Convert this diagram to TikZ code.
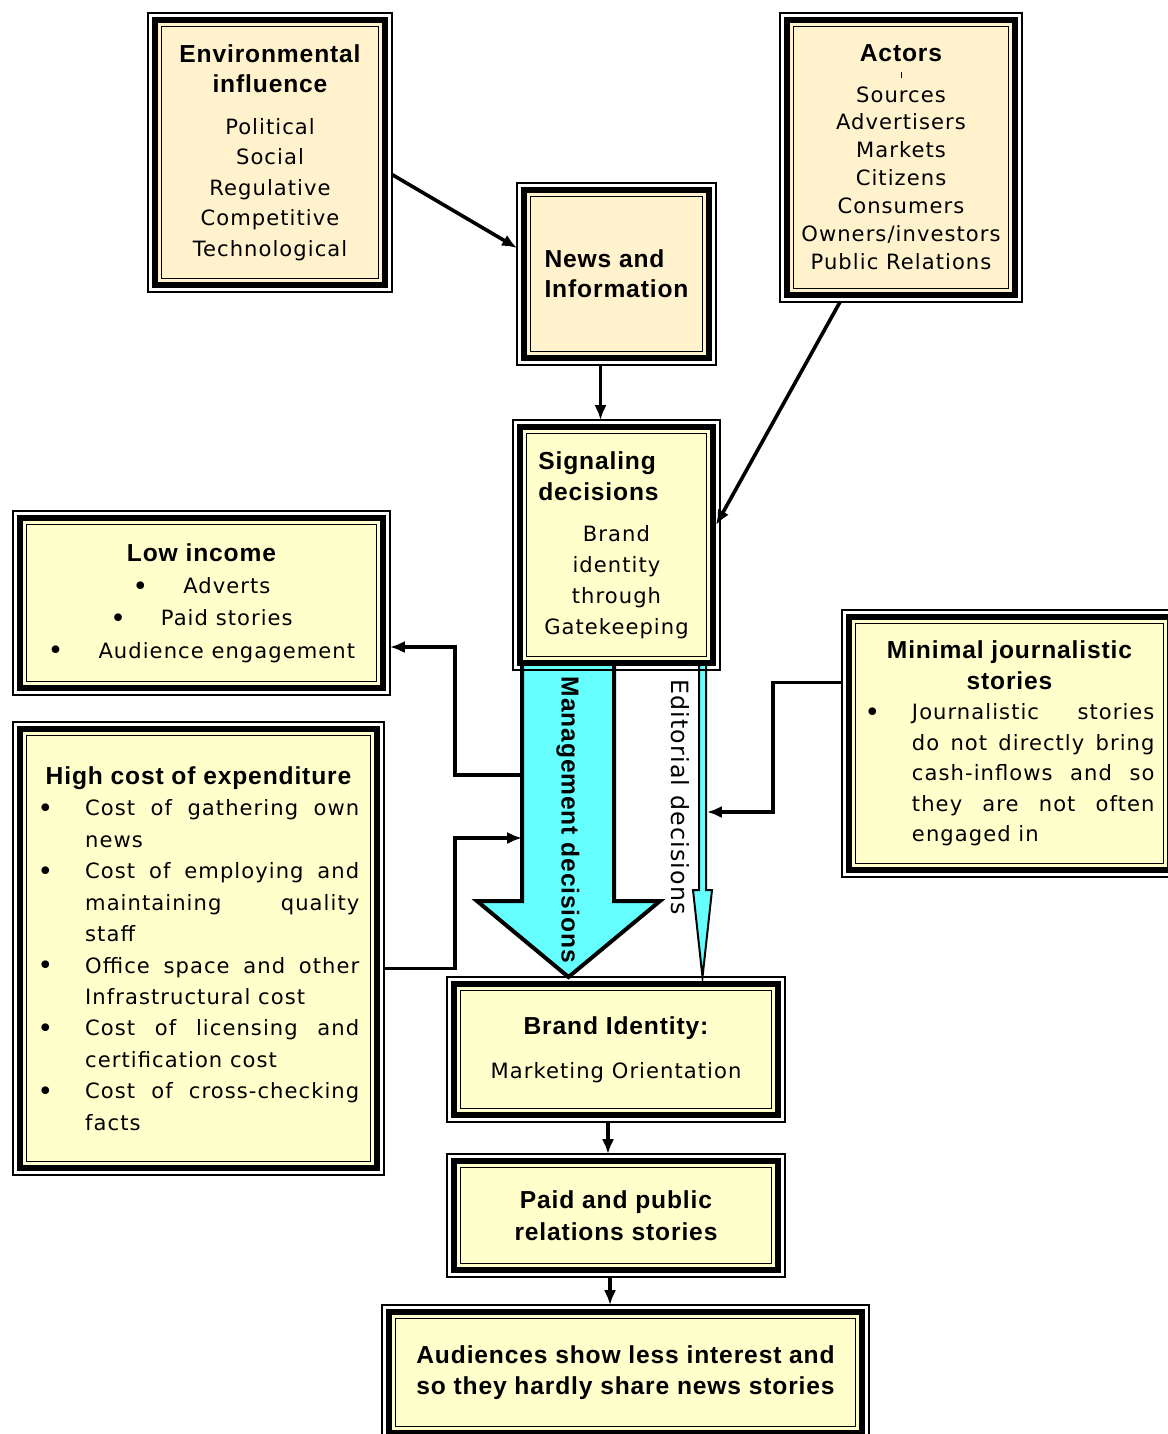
\documentclass[tikz,border=0pt]{standalone}
\usepackage{fontspec}
\setmainfont{DejaVu Sans}[LetterSpace=5]
\newfontfamily\headfont{Liberation Sans}[LetterSpace=3.5]
\usetikzlibrary{arrows.meta}
\newlength\pxu
\setlength\pxu{0.02cm}
\definecolor{cream}{HTML}{FFF2CC}
\definecolor{paleyellow}{HTML}{FFFFCC}
\definecolor{aqua}{HTML}{66FFFF}
\newcommand\hd[1]{{\headfont\bfseries\fontsize{14}{17}\selectfont #1}}
\newcommand\bul{\raisebox{-1pt}{\fontsize{15}{15}\selectfont •}}
\newcommand\bitem[2]{\makebox[27pt][l]{\bul}\makebox[#1][s]{#2}}
\newcommand\bfull[2]{\hspace*{27pt}\makebox[#1][s]{#2}}
\newcommand\blast[1]{\hspace*{27pt}#1}
\tikzset{
  framebox/.style={draw, line width=6\pxu, fill=#1, outer sep=7\pxu, inner sep=0pt},
  conn/.style={line width=3.6\pxu, -{Latex[length=8.5pt,width=7pt]}},
}
\begin{document}
\begin{tikzpicture}[x=\pxu, y=-\pxu]
\useasboundingbox (0,0) rectangle (1167,1434);

\draw[line width=4\pxu, fill=aqua, line join=miter] (522,663) -- (522,901) -- (477,901) -- (568.5,977) -- (660,901) -- (614,901) -- (614,663);
\draw[line width=2\pxu, fill=aqua, line join=miter] (699,663) -- (699,890) -- (693,890) -- (702.5,977) -- (712,890) -- (706,890) -- (706,663);

\node[framebox=cream, minimum width=230\pxu, minimum height=265\pxu, align=center, font=\fontsize{12}{17.3}\selectfont] (env) at (270,152.5)
  {\hd{Environmental}\\\hd{influence}\\[6.5pt]Political\\Social\\Regulative\\Competitive\\Technological};
\node[framebox=cream, minimum width=185\pxu, minimum height=168\pxu, align=left, font=\fontsize{12}{17}\selectfont] (news) at (616.5,274)
  {\hd{News and}\\\hd{Information}};
\node[framebox=cream, minimum width=228\pxu, minimum height=275\pxu, align=center, font=\fontsize{12}{15.9}\selectfont] (actors) at (901,157.5)
  {\hd{Actors}\\[-7pt]\rule{1\pxu}{6\pxu}\\[-2pt]Sources\\Advertisers\\Markets\\Citizens\\Consumers\\Owners/investors\\Public Relations};
\node[framebox=paleyellow, minimum width=193\pxu, minimum height=236\pxu, align=center, font=\fontsize{12}{17.6}\selectfont] (signal) at (616.5,545)
  {\makebox[89pt][l]{\hd{Signaling}}\\\makebox[89pt][l]{\hd{decisions}}\\[6pt]Brand\\identity\\through\\Gatekeeping};
\node[framebox=paleyellow, minimum width=363\pxu, minimum height=170\pxu, align=center, font=\fontsize{12}{18.4}\selectfont] (low) at (201.5,603)
  {\hd{Low income}\\\bul\hspace{20pt}Adverts\\\bul\hspace{20pt}Paid stories\\\bul\hspace{20pt}Audience engagement};
\node[framebox=paleyellow, minimum width=357\pxu, minimum height=439\pxu, align=left, font=\fontsize{12}{17.9}\selectfont] (cost) at (198.5,948.5)
  {\makebox[183pt]{\hd{High cost of expenditure}}\\
   \bitem{156pt}{Cost of gathering own}\\\blast{news}\\
   \bitem{156pt}{Cost of employing and}\\\bfull{156pt}{maintaining quality}\\\blast{staff}\\
   \bitem{156pt}{Office space and other}\\\blast{Infrastructural cost}\\
   \bitem{156pt}{Cost of licensing and}\\\blast{certification cost}\\
   \bitem{156pt}{Cost of cross-checking}\\\blast{facts}};
\node[framebox=paleyellow, minimum width=321\pxu, minimum height=253\pxu, align=left, font=\fontsize{12}{17.4}\selectfont] (minimal) at (1009.5,743.5)
  {\makebox[165pt]{\hd{Minimal journalistic}}\\\makebox[165pt]{\hd{stories}}\\
   \bitem{138pt}{Journalistic stories}\\\bfull{138pt}{do not directly bring}\\
   \bfull{138pt}{cash-inflows and so}\\\bfull{138pt}{they are not often}\\\blast{engaged in}};
\node[framebox=paleyellow, minimum width=324\pxu, minimum height=131\pxu, align=center, font=\fontsize{12}{17.5}\selectfont] (brand) at (616,1049.5)
  {\hd{Brand Identity:}\\[7.5pt]Marketing Orientation};
\node[framebox=paleyellow, minimum width=324\pxu, minimum height=109\pxu, align=center, font=\fontsize{12}{18}\selectfont] (paid) at (616,1215.5)
  {\hd{Paid and public}\\\hd{relations stories}};
\node[framebox=paleyellow, minimum width=473\pxu, minimum height=121\pxu, align=center, font=\fontsize{12}{18}\selectfont] (aud) at (625.5,1372.5)
  {\hd{Audiences show less interest and}\\\hd{so they hardly share news stories}};

\foreach \b in {env,news,actors,signal,low,cost,minimal,brand,paid,aud}{
  \draw[line width=1.5\pxu] (\b.north west) rectangle (\b.south east);
  \draw[line width=1.5\pxu] ([shift={(13.5,13.5)}]\b.north west) rectangle ([shift={(-13.5,-13.5)}]\b.south east);
}

\node[rotate=-90] (mgmt) at (568,820) {\hd{Management decisions}};
\node[rotate=-90, font=\fontsize{13.5}{15}\selectfont] (edit) at (680,797) {Editorial decisions};

\coordinate (mgmtA) at (522,775);
\coordinate (mgmtB) at (522,838);
\coordinate (editA) at (707,812);

\draw[conn] ([shift={(0,22)}]env.east) -- ([shift={(0,-26)}]news.west);
\draw[conn] ([shift={(-16,0)}]news.south) -- ([shift={(-16,0)}]signal.north);
\draw[conn] ([shift={(-61,0)}]actors.south) -- ([shift={(-4,-20)}]signal.east);
\draw[conn] (mgmtA) -- ++(-67,0) |- ([shift={(0,44)}]low.east);
\draw[conn] ([shift={(0,20)}]cost.east) -- ++(71,0) |- (mgmtB);
\draw[conn] ([shift={(0,-61)}]minimal.west) -- ++(-69,0) |- (editA);
\draw[conn] ([shift={(-8,0)}]brand.south) -- ([shift={(-8,0)}]paid.north);
\draw[conn] ([shift={(-6,0)}]paid.south) -- ([shift={(-15.5,0)}]aud.north);
\end{tikzpicture}
\end{document}
